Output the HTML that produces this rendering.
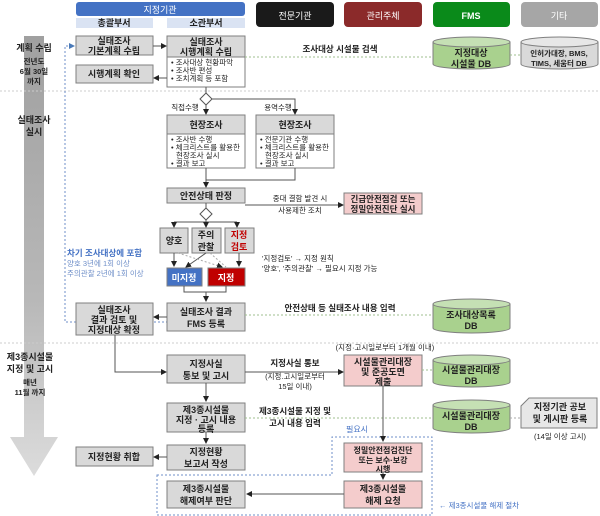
<!DOCTYPE html>
<html><head><meta charset="utf-8"><style>
html,body{margin:0;padding:0;background:#fff;width:600px;height:516px;overflow:hidden}
svg{display:block}
text{font-family:"Liberation Sans","Noto Sans CJK KR","NanumGothic",sans-serif;font-weight:bold;fill:#222}
.t{font-size:9px;text-anchor:middle}
.s{font-size:7.5px;font-weight:normal}
.g{fill:#d9d9d9;stroke:#7f7f7f;stroke-width:1}
.w{fill:#fff;stroke:#7f7f7f;stroke-width:1}
.p{fill:#f4cccc;stroke:#7f7f7f;stroke-width:1}
.ln{stroke:#555;stroke-width:1;fill:none}
.dl{stroke:#9fbf8f;stroke-width:1;stroke-dasharray:2,2;fill:none}
.hd{stroke:#ccc;stroke-width:1;stroke-dasharray:2,2}
</style></head><body>
<svg width="600" height="516" viewBox="0 0 600 516" xmlns="http://www.w3.org/2000/svg">
<defs>
<marker id="a" markerWidth="6" markerHeight="6" refX="5" refY="3" orient="auto"><path d="M0,0 L6,3 L0,6z" fill="#222"/></marker>
<marker id="b" markerWidth="6" markerHeight="6" refX="5" refY="3" orient="auto"><path d="M0,0 L6,3 L0,6z" fill="#4a7ab8"/></marker>
<linearGradient id="gr" x1="0" x2="0" y1="0" y2="1"><stop offset="0" stop-color="#a0a0a0"/><stop offset="0.6" stop-color="#b8b8b8"/><stop offset="1" stop-color="#dcdcdc"/></linearGradient>
</defs>
<rect x="76" y="2" width="169" height="14" rx="3" fill="#4472c4"/><text x="160" y="13" class="t" style="fill:#fff;font-weight:normal">지정기관</text>
<rect x="76" y="18" width="77" height="10" fill="#dae3f3"/><text x="114" y="26" class="t" style="font-size:9px">총괄부서</text>
<rect x="167" y="18" width="78" height="10" fill="#dae3f3"/><text x="206" y="26" class="t" style="font-size:9px">소관부서</text>
<rect x="256" y="2" width="78" height="25" rx="4" fill="#1a1a1a"/><text x="295" y="19" class="t" style="fill:#fff;font-weight:normal">전문기관</text>
<rect x="344" y="2" width="78" height="25" rx="4" fill="#8b2a2a"/><text x="383" y="19" class="t" style="fill:#fff;font-weight:normal">관리주체</text>
<rect x="433" y="2" width="77" height="25" rx="4" fill="#0a8a1a"/><text x="471" y="19" class="t" style="fill:#fff">FMS</text>
<rect x="521" y="2" width="77" height="25" rx="4" fill="#a6a6a6"/><text x="559" y="19" class="t" style="fill:#fff;font-weight:normal">기타</text>
<path d="M24,36 H44 V437 H58 L34,476 L10,437 H24 Z" fill="url(#gr)"/>
<text x="34" y="51" class="t">계획 수립</text>
<text x="34" y="64" class="t s" style="font-weight:bold">전년도</text>
<text x="34" y="74" class="t s" style="font-weight:bold">6월 30일</text>
<text x="34" y="84" class="t s" style="font-weight:bold">까지</text>
<text x="34" y="123" class="t">실태조사</text>
<text x="34" y="135" class="t">실시</text>
<text x="30" y="360" class="t">제3종시설물</text>
<text x="30" y="372" class="t">지정 및 고시</text>
<text x="30" y="385" class="t s" style="font-weight:bold">매년</text>
<text x="30" y="395" class="t s" style="font-weight:bold">11월 까지</text>
<line x1="0" y1="91" x2="600" y2="91" class="hd"/>
<line x1="0" y1="343" x2="600" y2="343" class="hd"/>
<rect x="76" y="36" width="77" height="19" class="g"/><text x="114" y="44" class="t">실태조사</text><text x="114" y="54" class="t">기본계획 수립</text>
<rect x="167" y="36" width="78" height="21" class="g"/><text x="206" y="45" class="t">실태조사</text><text x="206" y="55" class="t">시행계획 수립</text>
<rect x="167" y="57" width="78" height="30" class="w"/>
<text x="171" y="65" class="s">•  조사대상 현황파악</text><text x="171" y="73" class="s">•  조사반 편성</text><text x="171" y="81" class="s">•  조치계획 등 포함</text>
<rect x="76" y="65" width="77" height="18" class="g"/><text x="114" y="77" class="t">시행계획 확인</text>
<line x1="153" y1="46" x2="166" y2="46" class="ln" marker-end="url(#a)"/>
<line x1="167" y1="78" x2="154" y2="78" class="ln" marker-end="url(#a)"/>
<line x1="245" y1="57" x2="433" y2="57" class="dl"/>
<text x="340" y="52" class="t" style="font-size:8.5px">조사대상 시설물 검색</text>
<g><path d="M433,42 V64 A38.5,5 0 0 0 510,64 V42" fill="#a9d18e" stroke="#7f7f7f"/><ellipse cx="471.5" cy="42" rx="38.5" ry="5" fill="#c5e0b4" stroke="#7f7f7f"/>
<text x="471" y="56" class="t">지정대상</text><text x="471" y="67" class="t">시설물 DB</text></g>
<line x1="510" y1="55" x2="521" y2="55" class="dl"/>
<g><path d="M521,42 V64 A38.5,5 0 0 0 598,64 V42" fill="#d9d9d9" stroke="#7f7f7f"/><ellipse cx="559.5" cy="42" rx="38.5" ry="5" fill="#e7e7e7" stroke="#7f7f7f"/>
<text x="559" y="56" class="t" style="font-size:7.5px">인허가대장, BMS,</text><text x="559" y="66" class="t" style="font-size:7.5px">TIMS, 세움터 DB</text></g>
<path d="M168,322 H65 V46 H74" fill="none" stroke="#6f8fc8" stroke-dasharray="2,2" marker-end="url(#b)"/>
<line x1="206" y1="87" x2="206" y2="93" class="ln"/>
<path d="M206,93 L212,99 L206,105 L200,99Z" fill="#fff" stroke="#555"/>
<line x1="206" y1="105" x2="206" y2="114" class="ln" marker-end="url(#a)"/>
<path d="M212,99 H295 V114" class="ln" marker-end="url(#a)"/>
<text x="185" y="110" class="t s">직접수행</text><text x="278" y="110" class="t s">용역수행</text>
<rect x="167" y="115" width="78" height="19" class="g"/><text x="206" y="128" class="t">현장조사</text>
<rect x="167" y="134" width="78" height="34" class="w"/>
<text x="171" y="142" class="s">•  조사반 수행</text><text x="171" y="150" class="s">•  체크리스트를 활용한</text><text x="176" y="158" class="s">현장조사 실시</text><text x="171" y="166" class="s">•  결과 보고</text>
<rect x="256" y="115" width="78" height="19" class="g"/><text x="295" y="128" class="t">현장조사</text>
<rect x="256" y="134" width="78" height="34" class="w"/>
<text x="260" y="142" class="s">•  전문기관 수행</text><text x="260" y="150" class="s">•  체크리스트를 활용한</text><text x="265" y="158" class="s">현장조사 실시</text><text x="260" y="166" class="s">•  결과 보고</text>
<path d="M206,168 V180 M295,168 V180 H206 V187" class="ln" marker-end="url(#a)"/>
<rect x="167" y="188" width="78" height="15" class="g"/><text x="206" y="199" class="t">안전상태 판정</text>
<line x1="245" y1="205" x2="343" y2="205" class="ln" marker-end="url(#a)"/>
<text x="300" y="201" class="t s">중대 결함 발견 시</text><text x="300" y="213" class="t s">사용제한 조치</text>
<rect x="344" y="193" width="78" height="21" class="p"/><text x="383" y="202" class="t" style="font-size:8.5px">긴급안전점검 또는</text><text x="383" y="212" class="t" style="font-size:8.5px">정밀안전진단 실시</text>
<line x1="206" y1="203" x2="206" y2="208" class="ln"/>
<path d="M206,208 L212,214 L206,220 L200,214Z" fill="#fff" stroke="#555"/>
<path d="M174,222 H237 M206,220 V222" class="ln"/>
<path d="M174,222 V227" class="ln" marker-end="url(#a)"/><path d="M206,222 V227" class="ln" marker-end="url(#a)"/><path d="M237,222 V227" class="ln" marker-end="url(#a)"/>
<rect x="160" y="228" width="28" height="25" class="g"/><text x="174" y="244" class="t">양호</text>
<rect x="192" y="228" width="29" height="25" class="g"/><text x="206" y="238" class="t">주의</text><text x="206" y="250" class="t">관찰</text>
<rect x="225" y="228" width="29" height="25" class="g"/><text x="239" y="238" class="t" style="fill:#c00000">지정</text><text x="239" y="250" class="t" style="fill:#c00000">검토</text>
<path d="M174,253 V266" class="ln" marker-end="url(#a)"/>
<path d="M206,253 L186,267" class="ln" marker-end="url(#a)"/>
<path d="M239,253 V266" class="ln" marker-end="url(#a)"/>
<path d="M178,253 L222,267" stroke="#aaa" stroke-dasharray="2,2" fill="none" marker-end="url(#a)"/>
<path d="M210,253 L226,267" stroke="#aaa" stroke-dasharray="2,2" fill="none"/>
<rect x="167" y="268" width="35" height="18" fill="#4472c4" stroke="#7f7f7f"/><text x="184" y="281" class="t" style="fill:#fff">미지정</text>
<rect x="208" y="268" width="37" height="18" fill="#c00000" stroke="#7f7f7f"/><text x="226" y="281" class="t" style="fill:#fff">지정</text>
<text x="67" y="256" style="font-size:8.5px;fill:#4472c4">차기 조사대상에 포함</text>
<text x="67" y="266" class="s" style="fill:#6f8fc8">양호 3년에 1회 이상</text>
<text x="67" y="276" class="s" style="fill:#6f8fc8">주의관찰 2년에 1회 이상</text>
<text x="262" y="261" class="s">'지정검토' → 지정 원칙</text>
<text x="262" y="271" class="s">'양호', '주의관찰' → 필요시 지정 가능</text>
<path d="M184,286 V292 H226 V286 M206,292 V301" class="ln" marker-end="url(#a)"/>
<rect x="167" y="303" width="78" height="28" class="g"/><text x="206" y="315" class="t">실태조사 결과</text><text x="206" y="327" class="t">FMS 등록</text>
<rect x="76" y="303" width="77" height="32" class="g"/><text x="114" y="313" class="t">실태조사</text><text x="114" y="323" class="t">결과 검토 및</text><text x="114" y="333" class="t">지정대상 확정</text>
<line x1="167" y1="317" x2="154" y2="317" class="ln" marker-end="url(#a)"/>
<line x1="245" y1="315" x2="433" y2="315" class="dl"/>
<text x="340" y="311" class="t" style="font-size:8.5px">안전상태 등 실태조사 내용 입력</text>
<g><path d="M433,304 V328 A38.5,5 0 0 0 510,328 V304" fill="#a9d18e" stroke="#7f7f7f"/><ellipse cx="471.5" cy="304" rx="38.5" ry="5" fill="#c5e0b4" stroke="#7f7f7f"/>
<text x="471" y="318" class="t">조사대상목록</text><text x="471" y="329" class="t">DB</text></g>
<path d="M115,335 V372 H166" class="ln" marker-end="url(#a)"/>
<rect x="167" y="355" width="78" height="28" class="g"/><text x="206" y="367" class="t">지정사실</text><text x="206" y="379" class="t">통보 및 고시</text>
<line x1="245" y1="372" x2="343" y2="372" class="ln" marker-end="url(#a)"/>
<text x="295" y="366" class="t" style="font-size:8.5px">지정사실 통보</text>
<text x="295" y="379" class="t s">(지정.고시일로부터</text><text x="295" y="389" class="t s">15일 이내)</text>
<text x="385" y="350" class="t s">(지정·고시일로부터 1개월 이내)</text>
<rect x="344" y="355" width="78" height="31" class="p"/><text x="383" y="365" class="t">시설물관리대장</text><text x="383" y="375" class="t">및 준공도면</text><text x="383" y="385" class="t">제출</text>
<line x1="422" y1="370" x2="433" y2="370" class="dl"/>
<g><path d="M433,360 V382 A38.5,5 0 0 0 510,382 V360" fill="#a9d18e" stroke="#7f7f7f"/><ellipse cx="471.5" cy="360" rx="38.5" ry="5" fill="#c5e0b4" stroke="#7f7f7f"/>
<text x="471" y="373" class="t">시설물관리대장</text><text x="471" y="384" class="t">DB</text></g>
<path d="M206,383 V401" class="ln" marker-end="url(#a)"/>
<rect x="167" y="403" width="78" height="29" class="g"/><text x="206" y="413" class="t">제3종시설물</text><text x="206" y="423" class="t">지정 · 고시 내용</text><text x="206" y="432" class="t">등록</text>
<line x1="245" y1="418" x2="433" y2="418" class="dl"/>
<text x="295" y="414" class="t" style="font-size:8.5px">제3종시설물 지정 및</text><text x="295" y="426" class="t" style="font-size:8.5px">고시 내용 입력</text>
<g><path d="M433,405 V428 A38.5,5 0 0 0 510,428 V405" fill="#a9d18e" stroke="#7f7f7f"/><ellipse cx="471.5" cy="405" rx="38.5" ry="5" fill="#c5e0b4" stroke="#7f7f7f"/>
<text x="471" y="419" class="t">시설물관리대장</text><text x="471" y="430" class="t">DB</text></g>
<line x1="510" y1="418" x2="521" y2="418" class="hd" style="stroke:#aaa"/>
<path d="M529,398 H597 V428 H521 V406 Z" fill="#e7e7e7" stroke="#7f7f7f"/>
<text x="560" y="410" class="t">지정기관 공보</text><text x="560" y="422" class="t">및 게시판 등록</text>
<text x="560" y="439" class="t s">(14일 이상 고시)</text>
<path d="M206,432 V443" class="ln" marker-end="url(#a)"/>
<rect x="167" y="445" width="78" height="25" class="g"/><text x="206" y="455" class="t">지정현황</text><text x="206" y="467" class="t">보고서 작성</text>
<rect x="76" y="447" width="77" height="19" class="g"/><text x="114" y="460" class="t">지정현황 취합</text>
<line x1="167" y1="457" x2="154" y2="457" class="ln" marker-end="url(#a)"/>
<path d="M157,475 H332 V437 H432 V515 H157 Z" fill="none" stroke="#6f8fc8" stroke-dasharray="2,2"/>
<text x="357" y="432" class="t s" style="fill:#4472c4;font-size:8px">필요시</text>
<path d="M383,386 V441" class="ln" marker-end="url(#a)"/>
<rect x="344" y="443" width="78" height="29" class="p"/><text x="383" y="453" class="t" style="font-size:8px">정밀안전점검진단</text><text x="383" y="463" class="t" style="font-size:8px">또는 보수·보강</text><text x="383" y="472" class="t" style="font-size:8px">시행</text>
<path d="M383,472 V479" class="ln" marker-end="url(#a)"/>
<rect x="344" y="481" width="78" height="27" class="p"/><text x="383" y="492" class="t">제3종시설물</text><text x="383" y="504" class="t">해제 요청</text>
<line x1="344" y1="494" x2="247" y2="494" class="ln" marker-end="url(#a)"/>
<rect x="167" y="481" width="78" height="27" class="g"/><text x="206" y="492" class="t">제3종시설물</text><text x="206" y="504" class="t">해제여부 판단</text>
<text x="439" y="508" class="s" style="fill:#4472c4">←  제3종시설물 해제 절차</text>
</svg>
</body></html>
